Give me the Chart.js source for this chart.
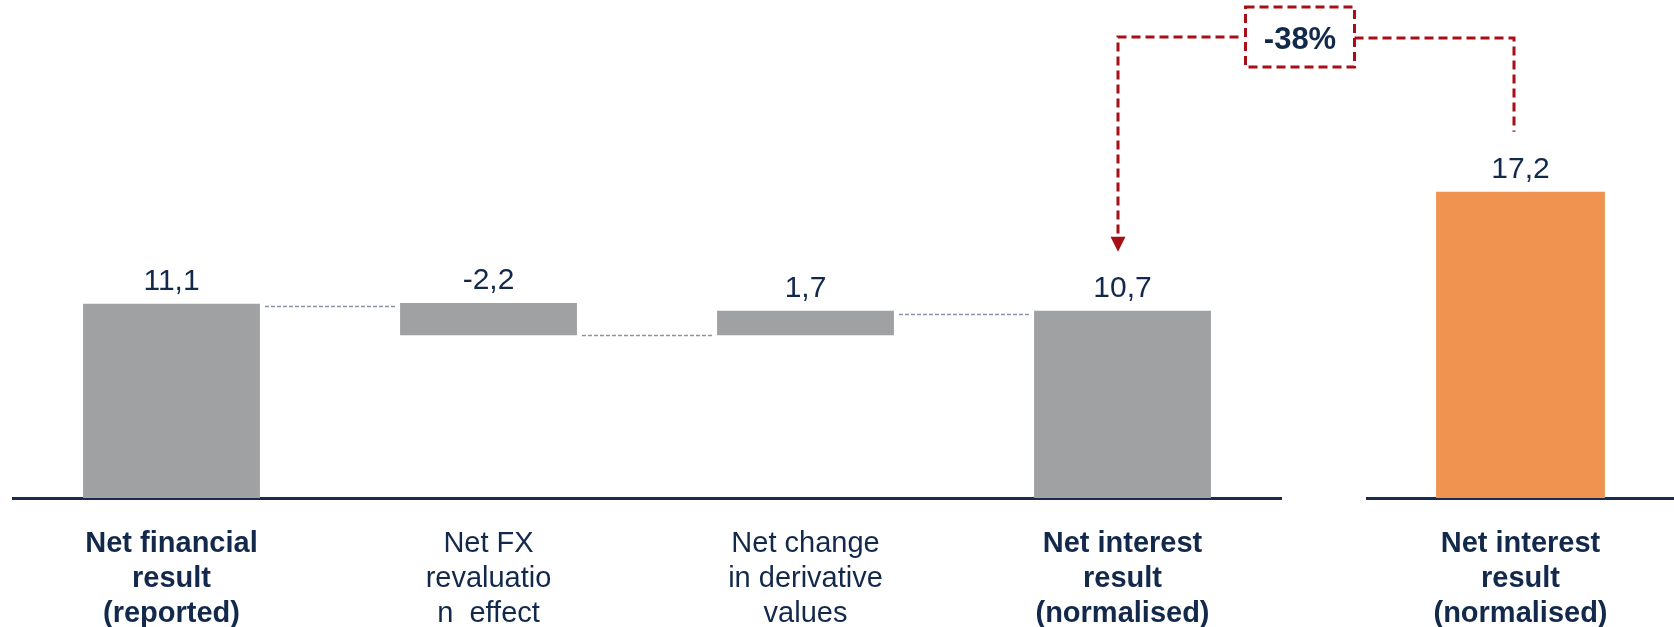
<!DOCTYPE html>
<html>
<head>
<meta charset="utf-8">
<script src="https://cdn.jsdelivr.net/npm/chart.js@4.4.1/dist/chart.umd.min.js"></script>
<style>
  html, body { margin: 0; padding: 0; background: #ffffff; }
  #wrap { position: relative; width: 1674px; height: 627px; overflow: hidden; }
  canvas { position: absolute; left: 0; top: 0; }
</style>
</head>
<body>
<div id="wrap">
  <canvas id="cA" width="1674" height="627"></canvas>
  <canvas id="cB" width="1674" height="627"></canvas>
</div>
<script>
// ---- Data ----
const categoriesA = [
  ['Net financial', 'result', '(reported)'],
  ['Net FX', 'revaluatio', 'n  effect'],
  ['Net change', 'in derivative', 'values'],
  ['Net interest', 'result', '(normalised)']
];
const boldCategoriesA = [true, false, false, true];
const barStartsA = [0, 11.15, 9.3, 0];
const barEndsA = [11.1, 9.3, 10.7, 10.7];
const valueLabelsA = ['11,1', '-2,2', '1,7', '10,7'];
const connectorLevelsA = [11.0, 9.3, 10.5];

const categoriesB = [['Net interest', 'result', '(normalised)']];
const valuesB = [17.2];
const valueLabelsB = ['17,2'];
const changeLabel = '-38%';

// ---- Styles ----
const NAVY = '#13294B';
const GREY = '#A0A1A3';
const ORANGE = '#F09351';
const RED = '#A50F15';
const FONT = '"Liberation Sans", Arial, Helvetica, sans-serif';

const floatingA = barStartsA.map((s, i) => [s, barEndsA[i]]);

function barTop(el) { return Math.min(el.y, el.base); }

const valueLabelPlugin = {
  id: 'valueLabels',
  afterDatasetsDraw(chart, args, opts) {
    const ctx = chart.ctx;
    const meta = chart.getDatasetMeta(0);
    ctx.save();
    ctx.font = '30px ' + FONT;
    ctx.fillStyle = NAVY;
    ctx.textAlign = 'center';
    ctx.textBaseline = 'alphabetic';
    meta.data.forEach((el, i) => {
      ctx.fillText(opts.labels[i], el.x, barTop(el) - 14);
    });
    ctx.restore();
  }
};

const connectorPlugin = {
  id: 'connectors',
  afterDatasetsDraw(chart) {
    const ctx = chart.ctx;
    const meta = chart.getDatasetMeta(0);
    const ys = chart.scales.y;
    ctx.save();
    ctx.strokeStyle = '#8793A8';
    ctx.lineWidth = 1.4;
    ctx.setLineDash([4, 2]);
    connectorLevelsA.forEach((lvl, i) => {
      const a = meta.data[i], b = meta.data[i + 1];
      const y = Math.round(ys.getPixelForValue(lvl)) + 0.5;
      ctx.beginPath();
      ctx.moveTo(a.x + a.width / 2 + 5, y);
      ctx.lineTo(b.x - b.width / 2 - 5, y);
      ctx.stroke();
    });
    ctx.restore();
  }
};

function xScale(labels, boldArr) {
  return {
    type: 'category',
    labels: labels,
    offset: true,
    grid: { display: false, drawTicks: false },
    border: { display: true, color: '#1B2B4E', width: 3 },
    ticks: {
      autoSkip: false,
      maxRotation: 0,
      minRotation: 0,
      padding: 28,
      color: NAVY,
      font: (c) => ({
        family: FONT,
        size: 29,
        weight: boldArr[c.index] ? 'bold' : 'normal',
        lineHeight: 35 / 29
      })
    },
    afterFit(scale) { scale.height = 129; }
  };
}

const chartA = new Chart(document.getElementById('cA'), {
  type: 'bar',
  data: {
    labels: categoriesA,
    datasets: [{
      data: floatingA,
      backgroundColor: GREY,
      borderWidth: 0,
      barPercentage: 1,
      categoryPercentage: 0.558
    }]
  },
  options: {
    responsive: false,
    animation: false,
    events: [],
    layout: { padding: { left: 13, right: 1674 - 1281, top: 148, bottom: 0 } },
    plugins: { legend: { display: false }, tooltip: { enabled: false }, valueLabels: { labels: valueLabelsA } },
    scales: {
      x: xScale(categoriesA, boldCategoriesA),
      y: { display: false, min: 0, max: 20 }
    }
  },
  plugins: [connectorPlugin, valueLabelPlugin]
});

const annotationPlugin = {
  id: 'changeAnnotation',
  afterDraw(chart) {
    const ctx = chart.ctx;
    const aEl = chartA.getDatasetMeta(0).data[3];
    const bEl = chart.getDatasetMeta(0).data[0];
    const leftX = aEl.x - 4.5;
    const arrowTip = barTop(aEl) - 59;
    const rightX = bEl.x - 6.5;
    const rightBottom = barTop(bEl) - 60;
    const lineY = 37;
    const boxW = 109, boxH = 60;
    const boxCx = (leftX + rightX) / 2 - 16;
    const boxL = boxCx - boxW / 2, boxR = boxCx + boxW / 2;
    const boxT = lineY - boxH / 2;

    ctx.save();
    ctx.strokeStyle = RED;
    ctx.lineWidth = 3;
    ctx.setLineDash([9, 5]);
    // left leg
    ctx.beginPath();
    ctx.moveTo(boxL - 7, lineY);
    ctx.lineTo(leftX, lineY);
    ctx.lineTo(leftX, arrowTip - 15);
    ctx.stroke();
    // right leg
    ctx.beginPath();
    ctx.moveTo(boxR, lineY + 1);
    ctx.lineTo(rightX, lineY + 1);
    ctx.lineTo(rightX, rightBottom);
    ctx.stroke();
    // box
    ctx.strokeRect(boxL, boxT, boxW, boxH);
    // arrow head
    ctx.setLineDash([]);
    ctx.fillStyle = RED;
    ctx.beginPath();
    ctx.moveTo(leftX - 7.5, arrowTip - 15);
    ctx.lineTo(leftX + 7.5, arrowTip - 15);
    ctx.lineTo(leftX, arrowTip);
    ctx.closePath();
    ctx.fill();
    // text
    ctx.fillStyle = NAVY;
    ctx.font = 'bold 31px ' + FONT;
    ctx.textAlign = 'center';
    ctx.textBaseline = 'alphabetic';
    ctx.fillText(changeLabel, boxCx, 49);
    ctx.restore();
  }
};

const chartB = new Chart(document.getElementById('cB'), {
  type: 'bar',
  data: {
    labels: categoriesB,
    datasets: [{
      data: valuesB,
      backgroundColor: ORANGE,
      borderWidth: 0,
      barPercentage: 1,
      categoryPercentage: 0.55
    }]
  },
  options: {
    responsive: false,
    animation: false,
    events: [],
    layout: { padding: { left: 1367, right: 0, top: 148, bottom: 0 } },
    plugins: { legend: { display: false }, tooltip: { enabled: false }, valueLabels: { labels: valueLabelsB } },
    scales: {
      x: xScale(categoriesB, [true]),
      y: { display: false, min: 0, max: 19.65 }
    }
  },
  plugins: [valueLabelPlugin, annotationPlugin]
});
</script>
</body>
</html>
